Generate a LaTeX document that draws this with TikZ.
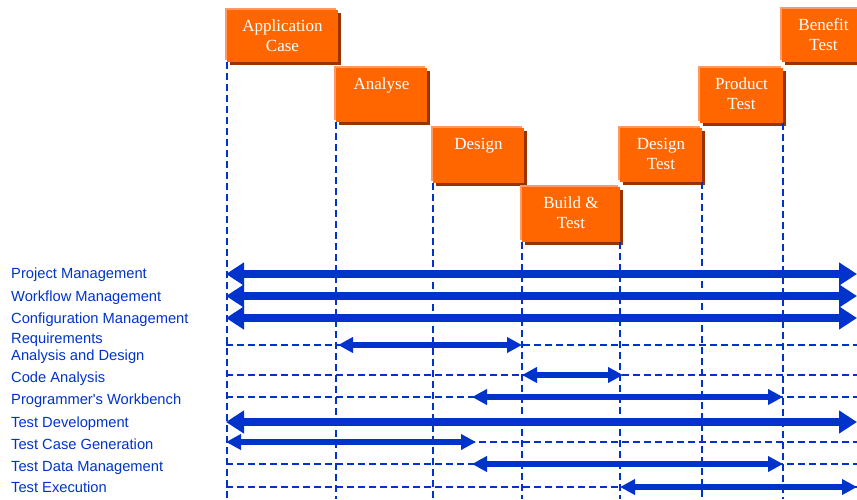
\documentclass[tikz,border=0pt]{standalone}
\usepackage{fontspec}
\setmainfont{Liberation Serif}
\newfontfamily\labfont{Liberation Sans}
\usetikzlibrary{arrows.meta,shadows,calc}
\definecolor{lineblue}{HTML}{0033CC}
\definecolor{boxorange}{HTML}{FF6600}
\definecolor{boxshadow}{HTML}{993300}
\definecolor{boxlight}{HTML}{FF9966}
\begin{document}
\begin{tikzpicture}[x=1pt,y=-1pt,
  stage/.style={fill=boxorange, draw=none, inner sep=0,
    general shadow={fill=boxlight, shadow xshift=-2pt, shadow yshift=2pt},
    general shadow={fill=boxshadow, shadow xshift=3pt, shadow yshift=-3pt}},
  stagetext/.style={text=white, font=\fontsize{17}{20}\selectfont, align=center, anchor=north, inner sep=0},
  lab/.style={text=lineblue, font=\labfont\fontsize{14.7}{17}\selectfont, inner sep=0, anchor=base west},
  gridline/.style={lineblue, line width=1.6pt, dash pattern=on 7pt off 4pt},
  bigarrow/.style={lineblue, line width=8pt, {Triangle[length=18pt,width=22pt]}-{Triangle[length=18pt,width=22pt]}},
  smallarrow/.style={lineblue, line width=5.5pt, {Triangle[length=15pt,width=15pt]}-{Triangle[length=15pt,width=15pt]}}
]
\useasboundingbox (0,0) rectangle (857,499);
\clip (0,0) rectangle (857,499);
\coordinate (bottom) at (0,499);

% stage boxes
\node[stage, minimum width=111pt, minimum height=52pt] (app) at (282.5,36) {};
\node[stage, minimum width=91pt, minimum height=54pt] (ana) at (381.5,95) {};
\node[stage, minimum width=91pt, minimum height=55pt] (des) at (478.5,155.5) {};
\node[stage, minimum width=98pt, minimum height=55pt] (bld) at (571,214.5) {};
\node[stage, minimum width=82pt, minimum height=54pt] (dtst) at (661,155) {};
\node[stage, minimum width=83pt, minimum height=55pt] (ptst) at (741.5,95.5) {};
\node[stage, minimum width=83pt, minimum height=53pt] (btst) at (823.5,35.5) {};

\node[stagetext] (appT) at ($(app.north)+(0,9.8)$) {Application\\Case};
\node[stagetext] (anaT) at ($(ana.north)+(0,9.8)$) {Analyse};
\node[stagetext] (desT) at ($(des.north)+(0,9.8)$) {Design};
\node[stagetext] (bldT) at ($(bld.north)+(0,9.8)$) {Build \&\\Test};
\node[stagetext] (dtstT) at ($(dtst.north)+(0,9.8)$) {Design\\Test};
\node[stagetext] (ptstT) at ($(ptst.north)+(0,9.8)$) {Product\\Test};
\node[stagetext] (btstT) at ($(btst.north)+(0,9.8)$) {Benefit\\Test};

% vertical phase lines
\draw[gridline] (app.south west) -- (app.south west |- bottom);
\draw[gridline] (ana.south west) -- (ana.south west |- bottom);
\draw[gridline] (des.south west) -- (des.south west |- bottom);
\draw[gridline] (bld.south west) -- (bld.south west |- bottom);
\draw[gridline] (bld.south east) -- (bld.south east |- bottom);
\draw[gridline] (dtst.south east) -- (dtst.south east |- bottom);
\draw[gridline] (ptst.south east) -- (ptst.south east |- bottom);

% row coordinates
\coordinate (pmL) at (226,274);   \coordinate (pmR) at (857,274);
\coordinate (wmL) at (226,296);   \coordinate (wmR) at (857,296);
\coordinate (cmL) at (226,318);   \coordinate (cmR) at (857,318);
\coordinate (rqL) at (226,345);   \coordinate (rqR) at (857,345);
\coordinate (rqA) at (338,345);   \coordinate (rqB) at (522,345);
\coordinate (caL) at (226,375);   \coordinate (caR) at (857,375);
\coordinate (caA) at (522,375);   \coordinate (caB) at (623,375);
\coordinate (pwL) at (226,397);   \coordinate (pwR) at (857,397);
\coordinate (pwA) at (472,397);   \coordinate (pwB) at (783,397);
\coordinate (tdL) at (226,422);   \coordinate (tdR) at (857,422);
\coordinate (tcL) at (226,442);   \coordinate (tcR) at (857,442);
\coordinate (tcB) at (476,442);
\coordinate (dmL) at (226,464);   \coordinate (dmR) at (857,464);
\coordinate (dmA) at (472,464);   \coordinate (dmB) at (783,464);
\coordinate (teL) at (226,487);   \coordinate (teR) at (857,487);
\coordinate (teA) at (620,487);

% horizontal dashed rows
\draw[gridline] (rqL) -- (rqR);
\draw[gridline] (caL) -- (caR);
\draw[gridline] (pwL) -- (pwR);
\draw[gridline] (tcL) -- (tcR);
\draw[gridline] (dmL) -- (dmR);
\draw[gridline] (teL) -- (teR);

% arrows
\draw[bigarrow] (pmL) -- (pmR);
\draw[bigarrow] (wmL) -- (wmR);
\draw[bigarrow] (cmL) -- (cmR);
\draw[smallarrow] (rqA) -- (rqB);
\draw[smallarrow] (caA) -- (caB);
\draw[smallarrow] (pwA) -- (pwB);
\draw[bigarrow] (tdL) -- (tdR);
\draw[smallarrow] (tcL) -- (tcB);
\draw[smallarrow] (dmA) -- (dmB);
\draw[smallarrow] (teA) -- (teR);

% labels
\node[lab] (l1) at (11,278) {Project Management};
\node[lab] (l2) at (11,301) {Workflow Management};
\node[lab] (l3) at (11,323) {Configuration Management};
\node[lab, anchor=north west, align=left] (l4) at (11,332.5) {Requirements\\Analysis and Design};
\node[lab] (l5) at (11,382) {Code Analysis};
\node[lab] (l6) at (11,404) {Programmer's Workbench};
\node[lab] (l7) at (11,427) {Test Development};
\node[lab] (l8) at (11,449) {Test Case Generation};
\node[lab] (l9) at (11,471) {Test Data Management};
\node[lab] (l10) at (11,492) {Test Execution};
\end{tikzpicture}
\end{document}
